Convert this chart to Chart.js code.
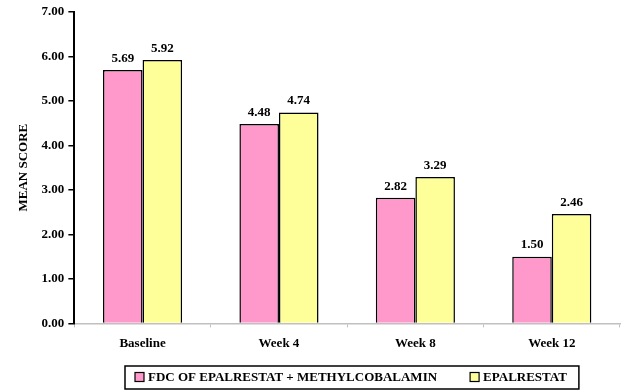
<!DOCTYPE html>
<html>
<head>
<meta charset="utf-8">
<script src="https://cdn.jsdelivr.net/npm/chart.js@4"></script>
<style>
  html, body { margin: 0; padding: 0; background: #fff; }
  #wrap { width: 640px; height: 392px; }
</style>
</head>
<body>
<div id="wrap"><canvas id="barChart" width="640" height="392"></canvas></div>
<script>
const categories = ['Baseline', 'Week 4', 'Week 8', 'Week 12'];
const fdcScores = [5.69, 4.48, 2.82, 1.50];
const epalrestatScores = [5.92, 4.74, 3.29, 2.46];
const seriesNames = ['FDC OF EPALRESTAT + METHYLCOBALAMIN', 'EPALRESTAT'];
const seriesColors = ['#ff99cc', '#ffff99'];

const serif = "'Liberation Serif', 'Times New Roman', serif";

// value labels above each bar
const barLabels = {
    id: 'barLabels',
    afterDatasetsDraw(chart) {
        const ctx = chart.ctx;
        ctx.save();
        ctx.font = 'bold 13px ' + serif;
        ctx.fillStyle = '#000';
        ctx.textAlign = 'center';
        ctx.textBaseline = 'bottom';
        chart.data.datasets.forEach((ds, i) => {
            chart.getDatasetMeta(i).data.forEach((bar, j) => {
                ctx.fillText(ds.data[j].toFixed(2), bar.x, bar.y - 5);
            });
        });
        ctx.restore();
    }
};

// boxed legend under the x axis
const boxedLegend = {
    id: 'boxedLegend',
    afterDraw(chart) {
        const ctx = chart.ctx;
        ctx.save();
        ctx.font = 'bold 13px ' + serif;
        ctx.textBaseline = 'middle';
        const gap = 33;
        const sq = 9;
        const widths = chart.data.datasets.map(ds => sq + 4 + ctx.measureText(ds.label).width);
        const total = widths.reduce((a, b) => a + b, 0) + gap * (widths.length - 1);
        const left = 135;
        const cy = 377;
        ctx.strokeStyle = '#000';
        ctx.lineWidth = 1.5;
        ctx.strokeRect(left - 10, 366, total + 22, 23);
        let x = left;
        chart.data.datasets.forEach((ds, i) => {
            ctx.fillStyle = ds.backgroundColor;
            ctx.fillRect(x, cy - sq / 2, sq, sq);
            ctx.lineWidth = 1.2;
            ctx.strokeRect(x, cy - sq / 2, sq, sq);
            ctx.fillStyle = '#000';
            ctx.fillText(ds.label, x + sq + 4, cy + 1);
            x += widths[i] + gap;
        });
        ctx.restore();
    }
};

new Chart(document.getElementById('barChart').getContext('2d'), {
    type: 'bar',
    data: {
        labels: categories,
        datasets: [
            {
                label: seriesNames[0],
                data: fdcScores,
                backgroundColor: seriesColors[0],
                borderColor: '#000',
                borderWidth: 1.5
            },
            {
                label: seriesNames[1],
                data: epalrestatScores,
                backgroundColor: seriesColors[1],
                borderColor: '#000',
                borderWidth: 1.5
            }
        ]
    },
    options: {
        responsive: false,
        animation: false,
        devicePixelRatio: 1,
        layout: { padding: { left: 12, right: 20, top: 5, bottom: 33 } },
        datasets: {
            bar: { barPercentage: 1, categoryPercentage: 0.58 }
        },
        plugins: {
            legend: { display: false },
            tooltip: { enabled: false }
        },
        scales: {
            x: {
                grid: {
                    drawOnChartArea: false,
                    offset: true,
                    color: '#c0c0c0',
                    tickLength: 4
                },
                border: { color: '#c0c0c0', width: 1.5 },
                ticks: {
                    color: '#000',
                    padding: 8,
                    font: { family: serif, size: 13, weight: 'bold' }
                }
            },
            y: {
                min: 0,
                max: 7,
                grid: {
                    drawOnChartArea: false,
                    color: '#000',
                    tickLength: 6,
                    lineWidth: 1.5
                },
                border: { color: '#000', width: 2 },
                ticks: {
                    stepSize: 1,
                    color: '#000',
                    padding: 4,
                    font: { family: serif, size: 13, weight: 'bold' },
                    callback: v => v.toFixed(2)
                },
                title: {
                    display: true,
                    text: 'MEAN SCORE',
                    color: '#000',
                    padding: { bottom: 6 },
                    font: { family: serif, size: 13, weight: 'bold' }
                }
            }
        }
    },
    plugins: [barLabels, boxedLegend]
});
</script>
</body>
</html>
